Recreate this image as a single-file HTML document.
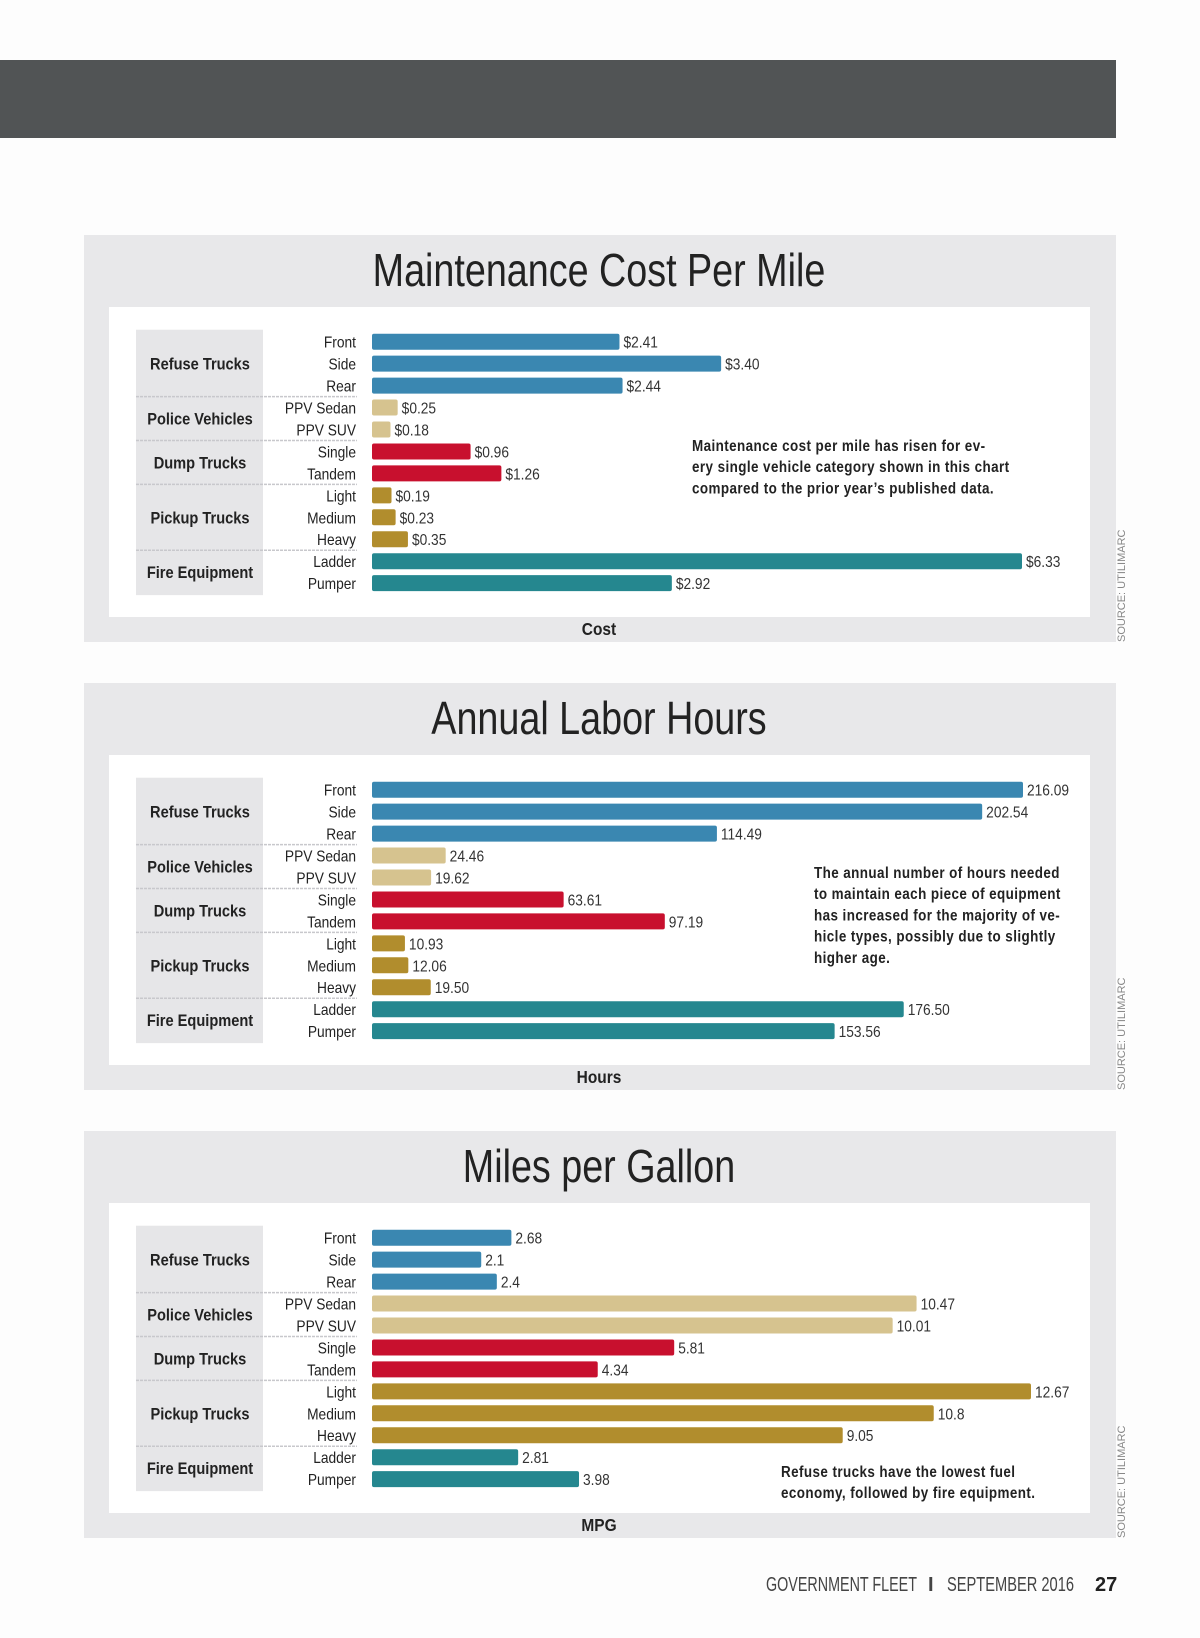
<!DOCTYPE html>
<html><head><meta charset="utf-8">
<style>
html,body{margin:0;padding:0;background:#fdfdfd;}
svg{display:block;}
text{font-family:"Liberation Sans Narrow","Liberation Sans",sans-serif;}
</style></head>
<body>
<svg id="page" width="1200" height="1638" viewBox="0 0 1200 1638" xmlns="http://www.w3.org/2000/svg">
<rect x="0" y="60" width="1116" height="78" fill="#515455"/>
<g id="charts"></g>
<g font-size="20" fill="#444">
<text x="766" y="1591" textLength="151" lengthAdjust="spacingAndGlyphs">GOVERNMENT FLEET</text>
<text x="928" y="1591" font-weight="bold">I</text>
<text x="947" y="1591" textLength="127" lengthAdjust="spacingAndGlyphs">SEPTEMBER 2016</text>
<text x="1095" y="1591" font-weight="bold" fill="#222">27</text>
</g>
</svg>
<script>
const rowLabels = ["Front","Side","Rear","PPV Sedan","PPV SUV","Single","Tandem","Light","Medium","Heavy","Ladder","Pumper"];
const groupNames = ["Refuse Trucks","Police Vehicles","Dump Trucks","Pickup Trucks","Fire Equipment"];
const groupSizes = [3,2,2,3,2];
const costValues = [2.41,3.40,2.44,0.25,0.18,0.96,1.26,0.19,0.23,0.35,6.33,2.92];
const costLabels = ["$2.41","$3.40","$2.44","$0.25","$0.18","$0.96","$1.26","$0.19","$0.23","$0.35","$6.33","$2.92"];
const hoursValues = [216.09,202.54,114.49,24.46,19.62,63.61,97.19,10.93,12.06,19.50,176.50,153.56];
const hoursLabels = ["216.09","202.54","114.49","24.46","19.62","63.61","97.19","10.93","12.06","19.50","176.50","153.56"];
const mpgValues = [2.68,2.1,2.4,10.47,10.01,5.81,4.34,12.67,10.8,9.05,2.81,3.98];
const mpgLabels = ["2.68","2.1","2.4","10.47","10.01","5.81","4.34","12.67","10.8","9.05","2.81","3.98"];
const groupColors = ["#3a87b1","#d6c38f","#c8102e","#b18d2d","#25878f"];

const NS="http://www.w3.org/2000/svg";
const root=document.getElementById('charts');
function el(tag,attrs,parent){const e=document.createElementNS(NS,tag);for(const k in attrs)e.setAttribute(k,attrs[k]);(parent||root).appendChild(e);return e;}
function txt(parent,x,y,s,size,opts){opts=opts||{};const sx=opts.sx||0.86;
  const t=el('text',{x:x,y:y,'font-size':size,fill:opts.fill||'#222','text-anchor':opts.anchor||'start','font-weight':opts.bold?'bold':'normal',transform:`translate(${x} 0) scale(${sx} 1) translate(${-x} 0)`},parent);
  if(opts.ls) t.setAttribute('letter-spacing',opts.ls);
  t.textContent=s;return t;}

const charts=[
 {title:"Maintenance Cost Per Mile",axis:"Cost",values:costValues,labels:costLabels,max:6.33,maxEnd:1022,
  note:["Maintenance cost per mile has risen for ev-","ery single vehicle category shown in this chart","compared to the prior year’s published data."],noteX:692,noteY:451},
 {title:"Annual Labor Hours",axis:"Hours",values:hoursValues,labels:hoursLabels,max:216.09,maxEnd:1023,
  note:["The annual number of hours needed","to maintain each piece of equipment","has increased for the majority of ve-","hicle types, possibly due to slightly","higher age."],noteX:814,noteY:430},
 {title:"Miles per Gallon",axis:"MPG",values:mpgValues,labels:mpgLabels,max:12.67,maxEnd:1031,
  note:["Refuse trucks have the lowest fuel","economy, followed by fire equipment."],noteX:781,noteY:581}
];

charts.forEach((c,ci)=>{
  const oy=ci*448;
  const g=el('g',{transform:`translate(0 ${oy})`});
  
  
  const panel=el('rect',{x:84,y:235,width:1032,height:407,fill:'#e8e8ea'},g);
  
  
  const inner=el('rect',{x:109,y:307,width:981,height:310,fill:'#ffffff'},g);
  
  
  const tt=txt(g,599,286,c.title,46,{anchor:'middle',sx:0.82});
  
  
  const at=txt(g,599,635,c.axis,18,{anchor:'middle',bold:true});
  
  
  const src=el('text',{x:0,y:0,'font-size':11,fill:'#888',transform:'translate(1125 642) rotate(-90)'},g);
  src.textContent='SOURCE: UTILIMARC';
  
  
  const pitch=21.95, y0=341.7, x0=372;
  const xs=v=>(c.maxEnd-x0)*v/c.max;
  const box=el('rect',{x:136,y:y0-pitch/2-1,width:127,height:pitch*12+2,fill:'#e6e6e8'},g);
  
  
  let r=0;
  groupNames.forEach((gn,gi)=>{
    const n=groupSizes[gi];
    const cy=y0+pitch*(r+(n-1)/2);
    const gt=txt(g,200,cy+6,gn,17,{anchor:'middle',bold:true});
    
    
    if(gi>0){const ln=el('line',{x1:136,x2:357,y1:y0+pitch*(r-0.5),y2:y0+pitch*(r-0.5),stroke:'#c8c8cc','stroke-width':1.5,'stroke-dasharray':'3 1'},g);
      
      }
    for(let k=0;k<n;k++){
      const i=r+k, cyr=y0+pitch*i;
      const lt=txt(g,356,cyr+6,rowLabels[i],16,{anchor:'end'});
      
      
      const w=xs(c.values[i]);
      const b=el('rect',{x:x0,y:cyr-8,width:w,height:16,rx:2,fill:groupColors[gi]},g);
      
      
      const vt=txt(g,x0+w+4,cyr+6,c.labels[i],16,{fill:'#333'});
      
      
    }
    r+=n;
  });
  c.note.forEach((line,li)=>{
    const nt=txt(g,c.noteX,c.noteY+li*21.2,line,16,{bold:true,sx:0.84,ls:0.5});
    
    
  });
});
</script>
</body></html>
